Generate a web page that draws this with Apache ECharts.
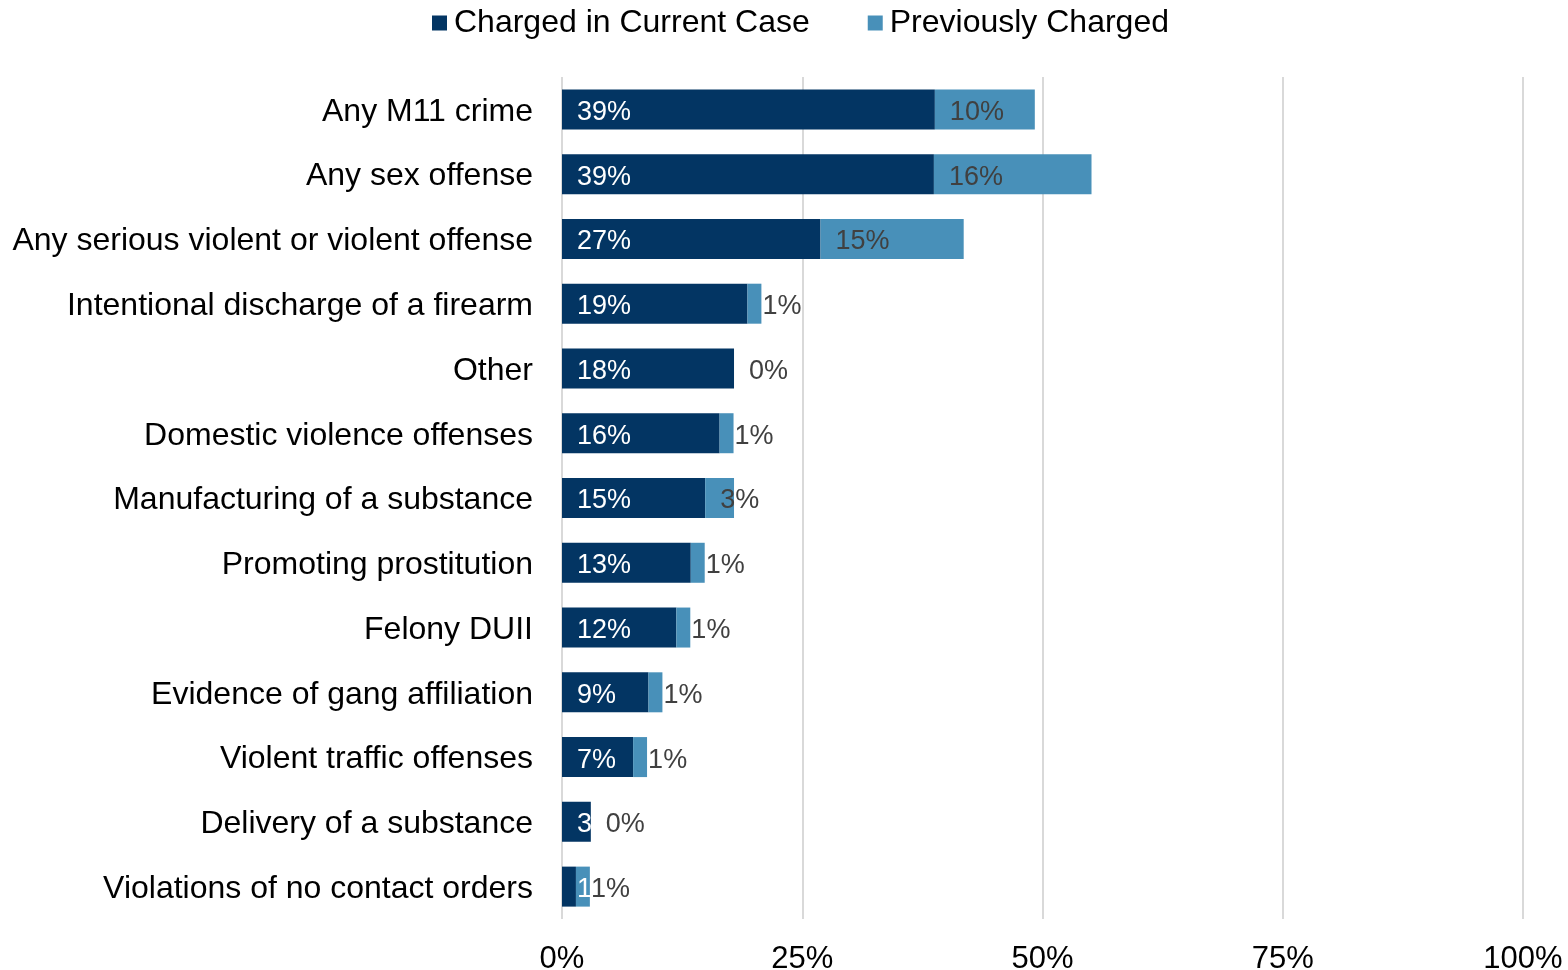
<!DOCTYPE html>
<html>
<head>
<meta charset="utf-8">
<title>Charges by offense type</title>
<script src="https://cdn.jsdelivr.net/npm/echarts@6/dist/echarts.min.js"></script>
<style>
  html, body { margin: 0; padding: 0; background: #ffffff; }
  #chart { width: 1568px; height: 970px; }
</style>
</head>
<body>
<div id="chart"></div>
<script>
// Offense categories, listed top to bottom
const categories = [
  'Any M11 crime',
  'Any sex offense',
  'Any serious violent or violent offense',
  'Intentional discharge of a firearm',
  'Other',
  'Domestic violence offenses',
  'Manufacturing of a substance',
  'Promoting prostitution',
  'Felony DUII',
  'Evidence of gang affiliation',
  'Violent traffic offenses',
  'Delivery of a substance',
  'Violations of no contact orders'
];

// Share of cases (%) charged in the current case
const chargedCurrent = [38.8, 38.7, 26.9, 19.3, 17.9, 16.4, 14.9, 13.4, 11.9, 9.0, 7.4, 3.0, 1.45];

// Share of cases (%) previously charged
const previouslyCharged = [10.4, 16.4, 14.9, 1.45, 0, 1.45, 3.0, 1.45, 1.45, 1.45, 1.45, 0, 1.45];

// Value axis ticks (%)
const xTicks = [0, 25, 50, 75, 100];

const seriesNames = ['Charged in Current Case', 'Previously Charged'];
const colors = ['#033563', '#4890B9'];

const FONT = '"Liberation Sans", Arial, sans-serif';

const pctLabel = p => Math.round(p.value) + '%';

const chart = echarts.init(document.getElementById('chart'), null, { renderer: 'canvas' });

chart.setOption({
  animation: false,
  backgroundColor: '#ffffff',
  textStyle: { fontFamily: FONT },
  legend: {
    data: seriesNames,
    left: 427,
    top: 2,
    itemWidth: 15,
    itemHeight: 15,
    itemGap: 58,
    icon: 'rect',
    textStyle: { fontFamily: FONT, fontSize: 32, color: '#000000', padding: [0, 0, 0, 2] }
  },
  grid: { left: 562, right: 45, top: 77, bottom: 51, containLabel: false, outerBoundsMode: 'none' },
  xAxis: {
    type: 'value',
    min: xTicks[0],
    max: xTicks[xTicks.length - 1],
    interval: xTicks[1] - xTicks[0],
    axisLine: { show: false },
    axisTick: { show: false },
    splitLine: { show: true, lineStyle: { color: '#d9d9d9', width: 2 } },
    axisLabel: {
      formatter: v => v + '%',
      fontFamily: FONT,
      fontSize: 31,
      color: '#000000',
      margin: 25
    }
  },
  yAxis: {
    type: 'category',
    data: categories,
    inverse: true,
    axisLine: { show: false },
    axisTick: { show: false },
    splitLine: { show: false },
    axisLabel: {
      color: '#000000',
      margin: 29,
      formatter: v => '{c|' + v + '}',
      rich: {
        c: { fontFamily: FONT, fontSize: 32, color: '#000000', padding: [5, 0, 0, 0] }
      }
    }
  },
  series: [
    {
      name: seriesNames[0],
      type: 'bar',
      stack: 'total',
      data: chargedCurrent,
      barWidth: 40,
      itemStyle: { color: colors[0] },
      label: {
        show: true,
        position: 'insideLeft',
        distance: 15,
        offset: [0, 3],
        formatter: pctLabel,
        fontFamily: FONT,
        fontSize: 27,
        color: '#ffffff'
      }
    },
    {
      name: seriesNames[1],
      type: 'bar',
      stack: 'total',
      data: previouslyCharged,
      barWidth: 40,
      itemStyle: { color: colors[1] },
      label: {
        show: true,
        position: 'insideLeft',
        distance: 15,
        offset: [0, 3],
        formatter: pctLabel,
        fontFamily: FONT,
        fontSize: 27,
        color: '#404040'
      }
    }
  ]
});
</script>
</body>
</html>
